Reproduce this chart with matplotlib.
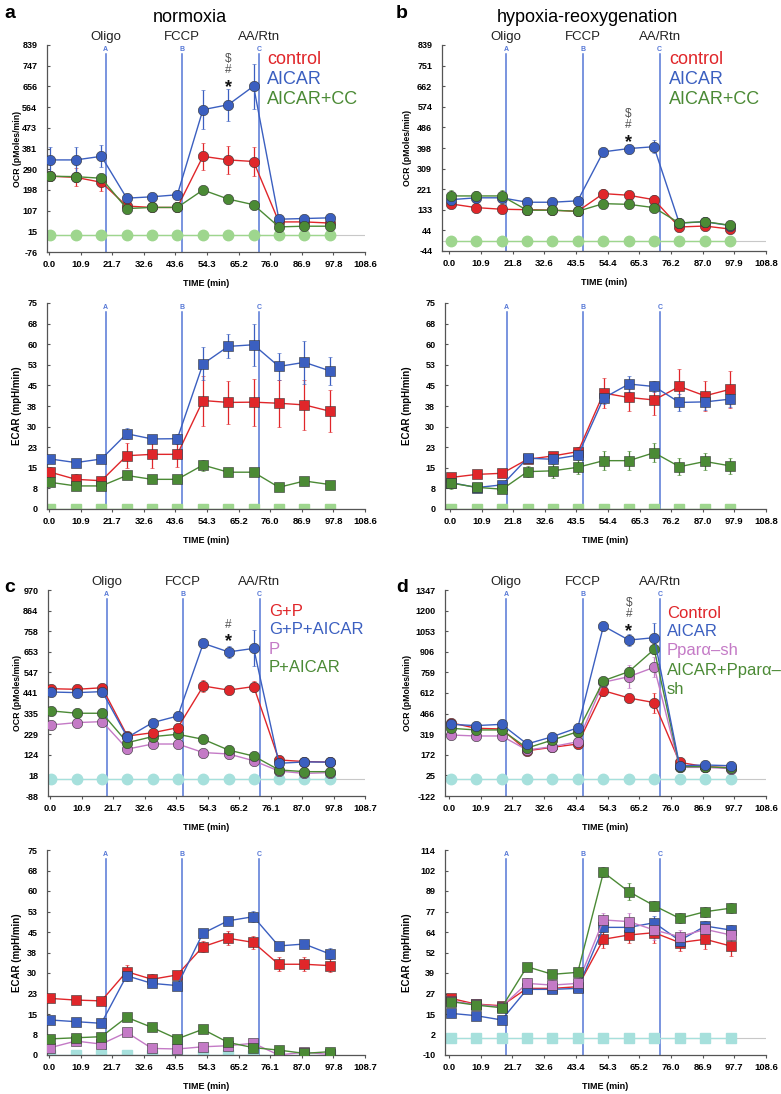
import numpy as np
import matplotlib.pyplot as plt

plt.rcParams['font.family'] = ['Liberation Sans', 'DejaVu Sans']

W, H = 781, 1094

# measurement times (min) and injection ports
time = [0.5, 9.2, 18.0, 26.7, 35.4, 44.1, 52.9, 61.6, 70.3, 79.0, 87.8, 96.5]
inject_t = [19.5, 45.8, 72.3]
inject_names = ['Oligo', 'FCCP', 'AA/Rtn']
port_letters = ['A', 'B', 'C']
background = [0.0] * 12

RED, BLUE, GREEN, PINK = '#e0262a', '#3b5fc0', '#4b8a35', '#c47ac6'
VLINE = '#5577d6'

# ---- panel a: normoxia ----
a_ocr_control = [259, 254, 232, 127, 121, 121, 347, 331, 324, 57, 57, 52]
a_ocr_control_err = [15, 40, 37, 8, 6, 6, 59, 61, 63, 6, 5, 5]
a_ocr_aicar = [331, 331, 347, 162, 168, 177, 553, 575, 657, 69, 72, 75]
a_ocr_aicar_err = [59, 58, 48, 8, 8, 10, 85, 70, 100, 6, 6, 6]
a_ocr_cc = [259, 257, 250, 116, 121, 121, 198, 158, 133, 35, 38, 38]
a_ocr_cc_err = [20, 15, 20, 6, 6, 6, 8, 6, 6, 5, 5, 5]

a_ecar_control = [13.4, 10.8, 10.3, 19.4, 19.9, 19.9, 39.5, 38.8, 38.9, 38.5, 37.9, 35.6]
a_ecar_control_err = [2.0, 2.0, 1.5, 4.5, 4.9, 4.6, 9.1, 7.8, 8.5, 8.5, 9.0, 7.7]
a_ecar_aicar = [18.2, 16.9, 18.2, 27.4, 25.5, 25.6, 52.8, 59.2, 59.8, 51.9, 53.4, 50.3]
a_ecar_aicar_err = [1.5, 1.0, 1.0, 2.0, 1.5, 1.8, 6.0, 4.4, 7.6, 5.0, 7.9, 5.0]
a_ecar_cc = [9.7, 8.4, 8.4, 12.2, 10.8, 10.8, 16.0, 13.4, 13.4, 7.9, 10.2, 8.9]
a_ecar_cc_err = [1, 1, 1, 1, 1, 1, 2, 1, 1, 1, 1, 1]

# ---- panel b: hypoxia-reoxygenation ----
b_ocr_control = [158, 142, 135, 133, 131, 126, 202, 195, 176, 59, 63, 50]
b_ocr_control_err = [12, 12, 14, 8, 8, 8, 18, 18, 18, 8, 8, 8]
b_ocr_aicar = [176, 184, 184, 165, 165, 171, 381, 395, 403, 76, 81, 65]
b_ocr_aicar_err = [10, 10, 10, 8, 8, 10, 12, 12, 28, 6, 6, 6]
b_ocr_cc = [192, 192, 192, 131, 131, 126, 159, 156, 142, 76, 82, 66]
b_ocr_cc_err = [25, 22, 25, 8, 8, 8, 8, 8, 8, 6, 6, 6]

b_ecar_control = [11.5, 12.6, 13.0, 18.1, 19.3, 20.9, 42.2, 40.6, 39.7, 44.6, 41.2, 43.6]
b_ecar_control_err = [1, 1, 1, 1.5, 1.5, 1.5, 5.5, 4.9, 5.5, 6.3, 5.5, 6.7]
b_ecar_aicar = [9.6, 7.8, 8.8, 18.5, 18.1, 19.6, 40.4, 45.5, 44.6, 38.8, 39.0, 40.0]
b_ecar_aicar_err = [1.5, 1, 1, 1.5, 1.5, 1.5, 2, 3, 2, 3, 3, 3]
b_ecar_cc = [9.4, 7.9, 7.2, 13.6, 13.9, 15.2, 17.6, 17.6, 20.5, 15.4, 17.3, 15.7]
b_ecar_cc_err = [2, 1.5, 1.5, 2, 2.5, 2.5, 3.5, 3.5, 3.5, 3, 3, 3]

# ---- panel c ----
c_ocr_gp = [463, 460, 468, 220, 237, 263, 477, 456, 474, 97, 89, 86]
c_ocr_gp_err = [15, 12, 12, 10, 10, 10, 30, 18, 30, 8, 8, 8]
c_ocr_gpa = [446, 443, 448, 213, 289, 323, 696, 652, 670, 80, 87, 86]
c_ocr_gpa_err = [12, 12, 12, 10, 10, 10, 12, 32, 92, 8, 8, 8]
c_ocr_p = [277, 289, 294, 153, 179, 179, 135, 128, 93, 40, 28, 32]
c_ocr_p_err = [12, 12, 20, 8, 8, 8, 8, 8, 8, 5, 5, 5]
c_ocr_pa = [349, 337, 337, 186, 217, 229, 203, 148, 117, 46, 37, 37]
c_ocr_pa_err = [10, 10, 10, 8, 8, 8, 8, 8, 8, 5, 5, 5]

c_ecar_gp = [20.7, 20.1, 19.8, 30.5, 27.7, 29.3, 39.6, 42.7, 41.2, 33.2, 33.2, 32.7]
c_ecar_gp_err = [1, 1, 1, 2.5, 2, 1.5, 2, 2.5, 2.5, 2.5, 2.5, 2.5]
c_ecar_gpa = [12.8, 12.2, 11.6, 29.0, 26.2, 25.4, 44.5, 49.1, 50.6, 39.9, 40.6, 37.0]
c_ecar_gpa_err = [1, 1, 1, 2, 1, 1, 1.5, 1.5, 2, 1.5, 1.5, 2]
c_ecar_p = [2.7, 5.1, 4.0, 8.3, 2.4, 2.2, 3.0, 3.4, 4.3, 0.0, 1.0, 0.2]
c_ecar_p_err = [1, 1, 1, 1, 1, 1, 1, 1, 1, 0.5, 0.5, 0.5]
c_ecar_pa = [5.9, 6.3, 6.7, 13.8, 10.1, 5.9, 9.4, 4.6, 2.7, 1.8, 0.6, 1.2]
c_ecar_pa_err = [1, 1, 1, 1, 1, 1, 1, 1, 1, 0.5, 0.5, 0.5]

# ---- panel d ----
d_ocr_control = [401, 361, 356, 201, 225, 249, 629, 577, 544, 118, 87, 80]
d_ocr_control_err = [15, 15, 15, 10, 10, 10, 35, 30, 71, 10, 8, 8]
d_ocr_aicar = [389, 380, 389, 249, 301, 365, 1090, 990, 1007, 94, 99, 94]
d_ocr_aicar_err = [15, 15, 15, 10, 10, 10, 20, 40, 107, 8, 8, 8]
d_ocr_ppara = [313, 306, 306, 206, 230, 265, 689, 729, 796, 82, 82, 73]
d_ocr_ppara_err = [15, 15, 25, 10, 10, 10, 40, 80, 70, 8, 8, 8]
d_ocr_aicar_ppara = [361, 349, 349, 220, 277, 337, 700, 765, 924, 87, 87, 78]
d_ocr_aicar_ppara_err = [15, 15, 15, 10, 10, 10, 20, 35, 35, 8, 8, 8]

d_ecar_control = [24.3, 20.8, 19.8, 30.3, 30.3, 31.3, 60.0, 62.6, 64.0, 58.0, 60.0, 55.9]
d_ecar_control_err = [2, 2, 2, 3, 3, 3, 5, 5, 6, 5, 6, 6]
d_ecar_aicar = [15.2, 13.8, 11.2, 29.7, 29.7, 30.3, 67.2, 67.2, 70.0, 59.2, 68.0, 65.6]
d_ecar_aicar_err = [2, 2, 2, 2, 2, 2, 3, 3, 4, 3, 3, 3]
d_ecar_ppara = [22.7, 20.6, 19.2, 33.3, 32.3, 33.3, 71.7, 70.7, 65.6, 61.6, 66.0, 62.6]
d_ecar_ppara_err = [2, 2, 2, 3, 3, 3, 4, 5, 6, 4, 4, 4]
d_ecar_aicar_ppara = [22.3, 20.2, 18.6, 43.4, 38.8, 40.0, 100.5, 88.8, 80.3, 72.7, 76.7, 78.8]
d_ecar_aicar_ppara_err = [2, 2, 2, 2, 2, 2, 3, 5, 3, 3, 3, 3]

# axis tick labels
a_ocr_ticks = ['-76', '15', '107', '198', '290', '381', '473', '564', '656', '747', '839']
b_ocr_ticks = ['-44', '44', '133', '221', '309', '398', '486', '574', '662', '751', '839']
c_ocr_ticks = ['-88', '18', '124', '229', '335', '441', '547', '653', '758', '864', '970']
d_ocr_ticks = ['-122', '25', '172', '319', '466', '612', '759', '906', '1053', '1200', '1347']
ecar_ticks = ['0', '8', '15', '23', '30', '38', '45', '53', '60', '68', '75']
d_ecar_ticks = ['-10', '2', '15', '27', '39', '52', '64', '77', '89', '102', '114']
a_x_ticks = ['0.0', '10.9', '21.7', '32.6', '43.6', '54.3', '65.2', '76.0', '86.9', '97.8', '108.6']
b_x_ticks = ['0.0', '10.9', '21.8', '32.6', '43.5', '54.4', '65.3', '76.2', '87.0', '97.9', '108.8']
c_x_ticks = ['0.0', '10.9', '21.7', '32.6', '43.5', '54.3', '65.2', '76.1', '87.0', '97.8', '108.7']
d_x_ticks = ['0.0', '10.9', '21.7', '32.6', '43.4', '54.3', '65.2', '76.0', '86.9', '97.7', '108.6']


fig = plt.figure(figsize=(W / 100, H / 100), dpi=100)


def px_axes(left, right, top, bottom):
    return fig.add_axes([left / W, 1 - bottom / H, (right - left) / W, (bottom - top) / H])


def ftext(x, y, s, **kw):
    fig.text(x / W, 1 - y / H, s, **kw)


def draw(ax, series, ticklabels, xticklabels, ylabel, marker, bg_color, xleft, lab_off, ocr=True):
    lo, hi = float(ticklabels[0]), float(ticklabels[-1])
    xmax = float(xticklabels[-1])
    ax.set_xlim(xleft, xmax)
    ax.set_ylim(lo, hi)
    for s in ['top', 'right']:
        ax.spines[s].set_visible(False)
    for s in ['left', 'bottom']:
        ax.spines[s].set_color('#555555')
        ax.spines[s].set_linewidth(0.9)
    ax.set_yticks(np.linspace(lo, hi, 11))
    ax.set_yticklabels(ticklabels, fontsize=6.5, fontweight='bold')
    ax.set_xticks(np.linspace(0, xmax, 11))
    ax.set_xticklabels(xticklabels, fontsize=6.8, fontweight='bold')
    ax.tick_params(axis='y', direction='in', length=2, pad=7, color='#555555')
    ax.tick_params(axis='x', direction='out', length=2, pad=4, color='#555555')
    ax.set_xlabel('TIME (min)', fontsize=6.5, fontweight='bold', labelpad=7)
    ax.set_ylabel(ylabel, fontsize=6.3 if ocr else 7, fontweight='bold')
    ax.yaxis.set_label_coords(lab_off, 0.5)

    # baseline and background wells
    ax.axhline(0, color='#c8c8c8', lw=0.8, zorder=1)
    ms = 7.5 if marker == 'o' else 7
    ax.plot(time, background, color=bg_color, lw=1.0, marker=marker, ms=ms,
            mfc=bg_color, mec=bg_color, zorder=2)

    # injections
    tr = ax.get_xaxis_transform()
    for t, name, letter in zip(inject_t, inject_names, port_letters):
        ax.axvline(t, ymin=0, ymax=0.958, color=VLINE, lw=1.1, zorder=1.5)
        ax.text(t, 0.978, letter, transform=tr, ha='center', va='center',
                fontsize=5, fontweight='bold', color=VLINE)
        if ocr:
            ax.text(t, 1.04, name, transform=tr, ha='center', va='center',
                    fontsize=9.5, color='#222222')

    for vals, errs, color in series:
        ax.errorbar(time, vals, yerr=errs, color=color, lw=1.0, elinewidth=0.9,
                    capsize=1.2, capthick=0.8, marker=marker, ms=ms, mfc=color,
                    mec='#333333', mew=0.4, zorder=3)


def stars(ax, x, y_star, upper):
    # significance marks above the AICAR peak: '*' then '#', '$' stacked upward
    ax.annotate('*', xy=(x, y_star), xytext=(0, -3), textcoords='offset points',
                ha='center', va='center', fontsize=13, fontweight='bold', color='#111111')
    for i, sym in enumerate(upper):
        ax.annotate(sym, xy=(x, y_star), xytext=(0, 9.4 + 8.4 * i),
                    textcoords='offset points', ha='center', va='center',
                    fontsize=8.5, color='#555555')


# panel a
ax = px_axes(47, 365, 45, 252)
draw(ax, [(a_ocr_control, a_ocr_control_err, RED), (a_ocr_aicar, a_ocr_aicar_err, BLUE),
          (a_ocr_cc, a_ocr_cc_err, GREEN)],
     a_ocr_ticks, a_x_ticks, 'OCR (pMoles/min)', 'o', '#9ed68e', -0.7, -24.5 / 318)
stars(ax, time[7], 669, ['#', '$'])

ax = px_axes(47, 365, 303, 509)
draw(ax, [(a_ecar_control, a_ecar_control_err, RED), (a_ecar_aicar, a_ecar_aicar_err, BLUE),
          (a_ecar_cc, a_ecar_cc_err, GREEN)],
     ecar_ticks, a_x_ticks, 'ECAR (mpH/min)', 's', '#9ed68e', -0.7, -24.5 / 318, ocr=False)

# panel b
ax = px_axes(442, 766, 45, 251)
draw(ax, [(b_ocr_control, b_ocr_control_err, RED), (b_ocr_aicar, b_ocr_aicar_err, BLUE),
          (b_ocr_cc, b_ocr_cc_err, GREEN)],
     b_ocr_ticks, b_x_ticks, 'OCR (pMoles/min)', 'o', '#9ed68e', -2.5, -29.5 / 324)
stars(ax, time[7], 438, ['#', '$'])

ax = px_axes(445, 766, 303, 509)
draw(ax, [(b_ecar_control, b_ecar_control_err, RED), (b_ecar_aicar, b_ecar_aicar_err, BLUE),
          (b_ecar_cc, b_ecar_cc_err, GREEN)],
     ecar_ticks, b_x_ticks, 'ECAR (mpH/min)', 's', '#9ed68e', -1.7, -32.5 / 321, ocr=False)

# panel c
ax = px_axes(48, 365, 590, 796)
draw(ax, [(c_ocr_p, c_ocr_p_err, PINK), (c_ocr_pa, c_ocr_pa_err, GREEN),
          (c_ocr_gp, c_ocr_gp_err, RED), (c_ocr_gpa, c_ocr_gpa_err, BLUE)],
     c_ocr_ticks, c_x_ticks, 'OCR (pMoles/min)', 'o', '#a6e0dc', -0.7, -25.5 / 317)
stars(ax, time[7], 725, ['#'])

ax = px_axes(47, 365, 850, 1055)
draw(ax, [(c_ecar_p, c_ecar_p_err, PINK), (c_ecar_pa, c_ecar_pa_err, GREEN),
          (c_ecar_gp, c_ecar_gp_err, RED), (c_ecar_gpa, c_ecar_gpa_err, BLUE)],
     ecar_ticks, c_x_ticks, 'ECAR (mpH/min)', 's', '#a6e0dc', -0.7, -24.5 / 318, ocr=False)

# panel d
ax = px_axes(445, 766, 590, 796)
draw(ax, [(d_ocr_control, d_ocr_control_err, RED), (d_ocr_ppara, d_ocr_ppara_err, PINK),
          (d_ocr_aicar_ppara, d_ocr_aicar_ppara_err, GREEN), (d_ocr_aicar, d_ocr_aicar_err, BLUE)],
     d_ocr_ticks, d_x_ticks, 'OCR (pMoles/min)', 'o', '#a6e0dc', -1.4, -32.5 / 321)
stars(ax, time[7], 1081, ['#', '$'])

ax = px_axes(445, 766, 850, 1055)
draw(ax, [(d_ecar_control, d_ecar_control_err, RED), (d_ecar_aicar, d_ecar_aicar_err, BLUE),
          (d_ecar_ppara, d_ecar_ppara_err, PINK), (d_ecar_aicar_ppara, d_ecar_aicar_ppara_err, GREEN)],
     d_ecar_ticks, d_x_ticks, 'ECAR (mpH/min)', 's', '#a6e0dc', -1.4, -32.5 / 321, ocr=False)

# panel letters and titles
for x, y, s in [(4, 14, 'a'), (396, 14, 'b'), (4, 588, 'c'), (396, 588, 'd')]:
    ftext(x, y, s, fontsize=14, fontweight='bold', va='center', ha='left')
ftext(190, 18, 'normoxia', fontsize=13, ha='center', va='center')
ftext(587, 18, 'hypoxia-reoxygenation', fontsize=13, ha='center', va='center')

# legends
for x, names, colors, y0, step, fs in [
        (267, ['control', 'AICAR', 'AICAR+CC'], [RED, BLUE, GREEN], 60, 20, 13),
        (669, ['control', 'AICAR', 'AICAR+CC'], [RED, BLUE, GREEN], 60, 20, 13),
        (269, ['G+P', 'G+P+AICAR', 'P', 'P+AICAR'], [RED, BLUE, PINK, GREEN], 611, 19, 12),
        (667, ['Control', 'AICAR', 'Ppar\u03b1\u2013sh', 'AICAR+Ppar\u03b1\u2013', 'sh'],
         [RED, BLUE, PINK, GREEN, GREEN], 613, 19, 12)]:
    for i, (n, c) in enumerate(zip(names, colors)):
        ftext(x, y0 + i * step, n, color=c, fontsize=fs, ha='left', va='center')

fig.savefig('out.png', dpi=100)
